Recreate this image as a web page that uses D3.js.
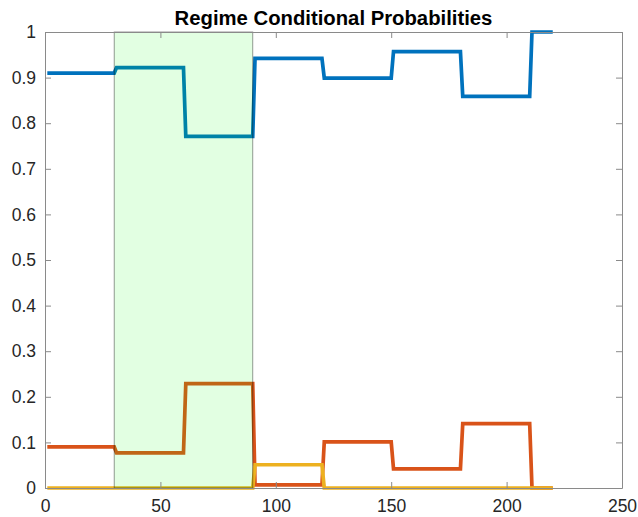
<!DOCTYPE html>
<html>
<head>
<meta charset="utf-8">
<script src="https://cdn.jsdelivr.net/npm/d3@7"></script>
<style>
  html, body { margin: 0; padding: 0; background: #fff; }
  svg { display: block; }
  text { font-family: "Liberation Sans", Arial, Helvetica, sans-serif; fill: #262626; }
</style>
</head>
<body>
<svg id="chart" width="638" height="517"></svg>
<script>
// Piecewise-constant regimes: each segment spans segStart..segEnd (time index)
const segStart = [1, 31, 61, 91, 121, 151, 181, 211];
const segEnd   = [30, 60, 90, 120, 150, 180, 210, 220];

// Conditional probabilities of each regime within each segment
const regime1 = [0.91, 0.922, 0.771, 0.942, 0.899, 0.957, 0.859, 1.0];
const regime2 = [0.09, 0.077, 0.229, 0.007, 0.101, 0.042, 0.141, 0.0];
const regime3 = [0.0, 0.0, 0.0, 0.051, 0.0, 0.0, 0.0, 0.0];

const seriesColors = ["#0072BD", "#D95319", "#EDB120"];

// Highlighted period
const shadeRange = [30, 90];

const xTicks = [0, 50, 100, 150, 200, 250];
const yTicks = [0, 0.1, 0.2, 0.3, 0.4, 0.5, 0.6, 0.7, 0.8, 0.9, 1];
const titleText = "Regime Conditional Probabilities";

const svg = d3.select("#chart");
const margin = { left: 45, right: 16, top: 32, bottom: 29 };
const W = 638, H = 517;
const x = d3.scaleLinear().domain([0, 250]).range([margin.left, W - margin.right]);
const y = d3.scaleLinear().domain([0, 1]).range([H - margin.bottom, margin.top]);

// Build step points: value held from segment start to segment end
function stepPoints(vals) {
  const pts = [];
  vals.forEach((v, i) => {
    pts.push([segStart[i], v]);
    pts.push([segEnd[i], v]);
  });
  return pts;
}

const line = d3.line().x(d => x(d[0])).y(d => y(d[1]));

const plot = svg.append("g");

const lines = plot.append("g");
[regime1, regime2, regime3].forEach((vals, i) => {
  lines.append("path")
    .datum(stepPoints(vals))
    .attr("d", line)
    .attr("fill", "none")
    .attr("stroke", seriesColors[i])
    .attr("stroke-width", 3.7)
    .attr("stroke-linejoin", "miter");
});

// Translucent shaded period drawn over the lines
plot.append("rect")
  .attr("x", x(shadeRange[0]))
  .attr("y", y(1))
  .attr("width", x(shadeRange[1]) - x(shadeRange[0]))
  .attr("height", y(0) - y(1))
  .attr("fill", "#00ff00")
  .attr("fill-opacity", 0.115)
  .attr("stroke", "#000")
  .attr("stroke-opacity", 0.4)
  .attr("stroke-width", 1);

// Axes box and ticks
const axisColor = "#8a8a8a";
const tickLen = 6;
const axBottom = d3.axisBottom(x).tickValues(xTicks).tickSizeInner(-tickLen).tickSizeOuter(0).tickPadding(12).tickFormat(d3.format("d"));
const axTop = d3.axisTop(x).tickValues(xTicks).tickSizeInner(-tickLen).tickSizeOuter(0).tickFormat("");
const axLeft = d3.axisLeft(y).tickValues(yTicks).tickSizeInner(-tickLen).tickSizeOuter(0).tickPadding(9).tickFormat(d => d === 0 || d === 1 ? d3.format("d")(d) : d3.format(".1f")(d));
const axRight = d3.axisRight(y).tickValues(yTicks).tickSizeInner(-tickLen).tickSizeOuter(0).tickFormat("");

function styleAxis(g) {
  g.select(".domain").attr("stroke", axisColor);
  g.selectAll(".tick line").attr("stroke", axisColor);
  g.selectAll(".tick text").attr("font-size", 17.5).attr("fill", "#262626")
    .attr("font-family", "'Liberation Sans', Arial, Helvetica, sans-serif");
}

svg.append("g").attr("transform", `translate(0,${y(0)})`).call(axBottom).call(styleAxis);
svg.append("g").attr("transform", `translate(0,${y(1)})`).call(axTop).call(styleAxis);
svg.append("g").attr("transform", `translate(${x(0)},0)`).call(axLeft).call(styleAxis);
svg.append("g").attr("transform", `translate(${x(250)},0)`).call(axRight).call(styleAxis);

// Title
svg.append("text")
  .attr("x", (x(0) + x(250)) / 2)
  .attr("y", 25)
  .attr("text-anchor", "middle")
  .attr("font-size", 20.3)
  .attr("font-weight", "bold")
  .style("fill", "#000")
  .text(titleText);
</script>
</body>
</html>
